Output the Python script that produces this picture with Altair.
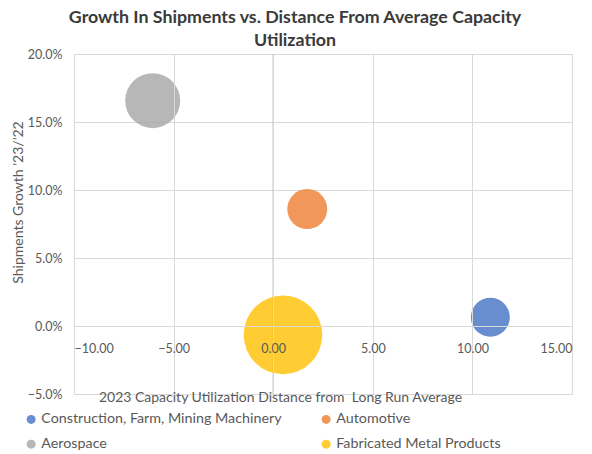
import altair as alt
import pandas as pd

# Series values
sectors = [
    "Construction, Farm, Mining Machinery",
    "Automotive",
    "Aerospace",
    "Fabricated Metal Products",
]
capacity_distance = [10.9, 1.71, -6.05, 0.49]        # points from long-run average
shipments_growth = [0.0064, 0.086, 0.1657, -0.0065]   # '23 vs '22
bubble_size = [24.6, 25.9, 49.0, 100.0]               # relative bubble weight
colors = ["#4472C4", "#ED7D31", "#A5A5A5", "#FFC000"]

# legend fills column by column: two rows of two
legend_order = [sectors[0], sectors[2], sectors[1], sectors[3]]
legend_colors = [colors[0], colors[2], colors[1], colors[3]]

x_ticks = [-10, -5, 0, 5, 10, 15]
y_ticks = [-0.05, 0.0, 0.05, 0.10, 0.15, 0.20]
zero_line = [0]

FONT = "Lato"
TXT = "#595959"
GRID = "#D9D9D9"

W, H = 498, 340

df = pd.DataFrame({
    "sector": sectors,
    "distance": capacity_distance,
    "growth": shipments_growth,
    "weight": bubble_size,
})

x_scale = alt.Scale(domain=[x_ticks[0], x_ticks[-1]], nice=False, zero=False)
y_scale = alt.Scale(domain=[y_ticks[0], y_ticks[-1]], nice=False, zero=False)

x_axis = alt.Axis(
    values=x_ticks, format=".2f", offset=-68, ticks=False, zindex=1,
    domain=True, domainColor=GRID, labelPadding=16,
    labelFont=FONT, labelFontSize=12.5, labelColor=TXT,
    grid=True, gridColor=GRID,
    title="2023 Capacity Utilization Distance from\u00a0 Long Run Average",
    titleFont=FONT, titleFontSize=14, titleFontWeight="normal", titleColor=TXT,
    titleX=206, titleY=71, titleAlign="center", titleBaseline="middle",
    titleAnchor="start",
)
y_axis = alt.Axis(
    values=y_ticks, format=".1%", ticks=False, domain=False,
    labelPadding=12, labelFont=FONT, labelFontSize=12.5, labelColor=TXT,
    grid=True, gridColor=GRID,
    title="Shipments Growth '23/'22",
    titleFont=FONT, titleFontSize=14, titleFontWeight="normal", titleColor=TXT,
    titleX=-56, titleY=148, titleAlign="center", titleBaseline="middle",
    titleAngle=270, titleAnchor="start",
)

bubbles = alt.Chart(df).mark_circle(opacity=0.8, strokeWidth=0).encode(
    x=alt.X("distance:Q", scale=x_scale, axis=x_axis),
    y=alt.Y("growth:Q", scale=y_scale, axis=y_axis),
    size=alt.Size("weight:Q", scale=alt.Scale(domain=[0, 100], range=[0, 6178]),
                  legend=None),
    color=alt.Color(
        "sector:N",
        scale=alt.Scale(domain=legend_order, range=legend_colors),
        sort=legend_order,
        legend=alt.Legend(
            orient="none", legendX=-50, legendY=358, columns=2,
            columnPadding=37, rowPadding=10, padding=0,
            symbolType="circle", symbolSize=81, symbolOpacity=0.8,
            symbolStrokeWidth=0, labelFont=FONT, labelFontSize=14.3,
            labelColor=TXT, labelOffset=3, labelLimit=400, title=None,
        ),
    ),
    tooltip=["sector", "distance", alt.Tooltip("growth:Q", format=".1%")],
)

vaxis = alt.Chart(pd.DataFrame({"x": zero_line})).mark_rule(
    color="#A6A6A6", strokeWidth=1
).encode(x=alt.X("x:Q", scale=x_scale))

chart = alt.layer(vaxis, bubbles).properties(
    width=W, height=H,
    autosize=alt.AutoSizeParams(type="none"),
    padding={"left": 74, "top": 54, "right": 20, "bottom": 60},
    title=alt.TitleParams(
        text=["Growth In Shipments vs. Distance From Average Capacity",
              "Utilization"],
        anchor="middle", frame="group", dx=-28, offset=-2,
        font=FONT, fontSize=17.8, fontWeight="bold", color="#3A3A3A",
        lineHeight=23,
    ),
).configure_view(stroke=None).configure(background="white")

chart.save("out.html", embed_options={"renderer": "svg", "actions": False})
